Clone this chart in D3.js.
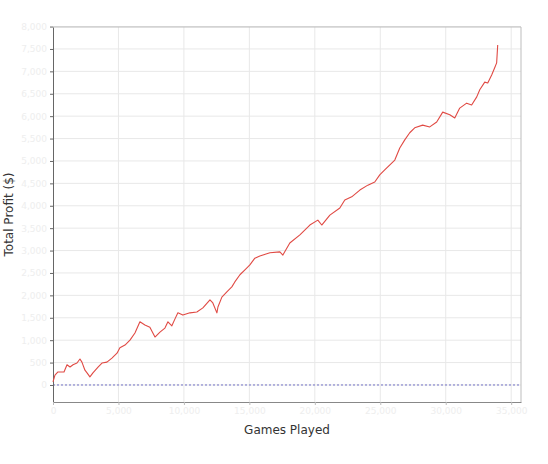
<!DOCTYPE html>
<html>
<head>
<meta charset="utf-8">
<script src="https://cdn.jsdelivr.net/npm/d3@7"></script>
<style>
  body { margin: 0; background: #fff; }
  text { font-family: "DejaVu Sans", sans-serif; }
</style>
</head>
<body>
<script>
// games played vs cumulative profit
var games = [0, 150, 380, 840, 1070, 1300, 1530, 1830, 2060, 2210, 2440, 2600, 2820, 3050, 3440, 3740,
  4120, 4500, 4890, 5110, 5500, 5880, 6260, 6640, 7020, 7400, 7790, 8170, 8550, 8780, 9080, 9310,
  9540, 9920, 10460, 10990, 11450, 11990, 12210, 12520, 12600, 12900, 13280, 13660, 13890, 14280,
  14660, 15040, 15420, 15800, 16570, 17330, 17560, 18090, 18860, 19620, 20230, 20530, 21150, 21910,
  22290, 22820, 23440, 24050, 24580, 24960, 25340, 26110, 26490, 26870, 27250, 27630, 28240, 28780,
  29310, 29770, 30310, 30690, 31070, 31600, 31980, 32370, 32600, 32980, 33210, 33510, 33740, 33890, 33970];
var profit = [70, 220, 290, 290, 450, 400, 450, 490, 580, 510, 330, 270, 180, 270, 400, 490,
  510, 600, 710, 830, 890, 1000, 1160, 1410, 1340, 1290, 1070, 1180, 1270, 1410, 1320, 1470,
  1610, 1560, 1610, 1630, 1720, 1900, 1830, 1610, 1740, 1960, 2080, 2190, 2300, 2460,
  2570, 2680, 2830, 2880, 2950, 2970, 2900, 3170, 3350, 3570, 3680, 3570, 3790, 3950,
  4130, 4200, 4350, 4460, 4530, 4690, 4800, 5020, 5290, 5470, 5630, 5740, 5800, 5760,
  5870, 6090, 6030, 5960, 6180, 6290, 6250, 6430, 6590, 6760, 6740, 6920, 7080, 7190, 7590];
var xTicks = [0, 5000, 10000, 15000, 20000, 25000, 30000, 35000];
var yTicks = d3.range(0, 8001, 500);

var margin = {left: 53, right: 27, top: 27, bottom: 62},
    width = 548 - margin.left - margin.right,
    height = 464 - margin.top - margin.bottom;

var svg = d3.select("body").append("svg")
    .attr("width", 548)
    .attr("height", 464);

var g = svg.append("g")
    .attr("transform", "translate(" + margin.left + "," + margin.top + ")");

var x = d3.scaleLinear().domain([0, 35750]).range([0, width]);
var y = d3.scaleLinear().domain([-380, 7990]).range([height, 0]);

// grid
g.append("g").selectAll("line").data(xTicks.slice(1))
  .enter().append("line")
    .attr("x1", function(d) { return x(d); }).attr("x2", function(d) { return x(d); })
    .attr("y1", 0).attr("y2", height)
    .attr("stroke", "#e8e8e8");
g.append("g").selectAll("line").data(yTicks)
  .enter().append("line")
    .attr("x1", 0).attr("x2", width)
    .attr("y1", function(d) { return y(d); }).attr("y2", function(d) { return y(d); })
    .attr("stroke", "#e8e8e8");

// plot border
g.append("path")
    .attr("d", "M0,0H" + width + "V" + height)
    .attr("fill", "none")
    .attr("stroke", "#bdbdbd");

// zero line
g.append("line")
    .attr("x1", 0).attr("x2", width)
    .attr("y1", y(0)).attr("y2", y(0))
    .attr("stroke", "#7474c8")
    .attr("stroke-dasharray", "2,2");

// axes
var yAxis = g.append("g")
    .call(d3.axisLeft(y).tickValues(yTicks).tickSize(3).tickSizeOuter(0));
yAxis.select(".domain").attr("stroke", "#666");
yAxis.selectAll(".tick line").attr("stroke", "#666");
yAxis.selectAll(".tick text").attr("fill", "#eeeeee").attr("font-size", 9);

var xAxis = g.append("g")
    .attr("transform", "translate(0," + height + ")")
    .call(d3.axisBottom(x).tickValues(xTicks).tickSize(3).tickSizeOuter(0));
xAxis.select(".domain").attr("stroke", "#888");
xAxis.selectAll(".tick line").attr("stroke", "#bbb");
xAxis.selectAll(".tick text").attr("fill", "#eeeeee").attr("font-size", 9);

// profit line
var line = d3.line()
    .x(function(d, i) { return x(games[i]); })
    .y(function(d) { return y(d); });

g.append("path")
    .datum(profit)
    .attr("fill", "none")
    .attr("stroke", "#e04a44")
    .attr("stroke-width", 1.1)
    .attr("stroke-linejoin", "round")
    .attr("d", line);

// labels
svg.append("text")
    .attr("transform", "translate(13," + (margin.top + height / 2) + ") rotate(-90)")
    .attr("text-anchor", "middle")
    .attr("font-size", 12)
    .attr("fill", "#333")
    .text("Total Profit ($)");

svg.append("text")
    .attr("x", margin.left + width / 2)
    .attr("y", 434)
    .attr("text-anchor", "middle")
    .attr("font-size", 12)
    .attr("fill", "#333")
    .text("Games Played");
</script>
</body>
</html>
